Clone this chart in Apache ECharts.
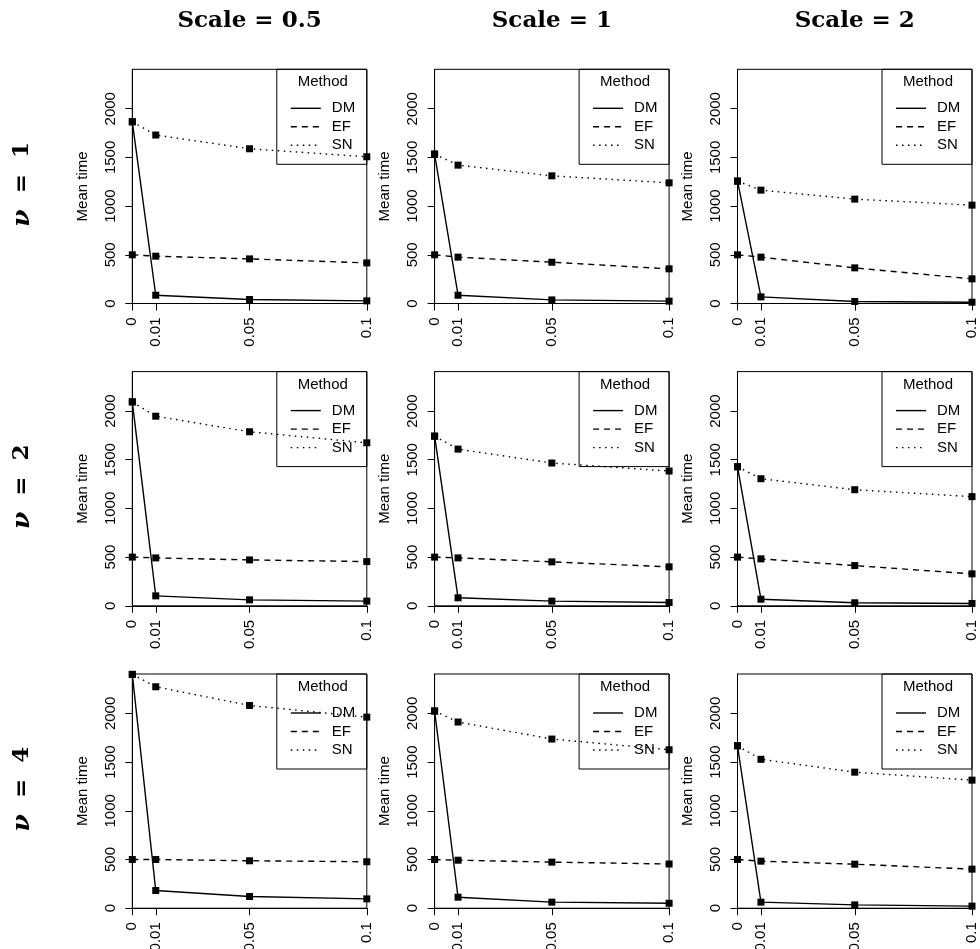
<!DOCTYPE html>
<html>
<head>
<meta charset="utf-8">
<style>
  html, body { margin: 0; padding: 0; background: #fff; }
  #chart { width: 980px; height: 949px; }
</style>
<script src="https://cdn.jsdelivr.net/npm/echarts@6/dist/echarts.min.js"></script>
</head>
<body>
<div id="chart"></div>
<script>
// Contamination levels on the x axis
const xLevels = [0, 0.01, 0.05, 0.1];
const yTicks = [0, 500, 1000, 1500, 2000];
const scaleLabels = ['Scale = 0.5', 'Scale = 1', 'Scale = 2'];
const nuLabels = ['1', '2', '4'];
const methods = ['DM', 'EF', 'SN'];

// Mean time per method; one array per (nu, scale) panel, values at xLevels
const DM_nu1_s05 = [1866, 85, 41, 27];
const DM_nu1_s1  = [1534, 85, 37, 24];
const DM_nu1_s2  = [1257, 68, 21, 13];
const DM_nu2_s05 = [2094, 102, 61, 48];
const DM_nu2_s1  = [1742, 82, 48, 34];
const DM_nu2_s2  = [1428, 68, 31, 24];
const DM_nu4_s05 = [2401, 182, 120, 96];
const DM_nu4_s1  = [2025, 113, 62, 51];
const DM_nu4_s2  = [1668, 62, 34, 21];

const EF_nu1_s05 = [500, 486, 458, 417];
const EF_nu1_s1  = [500, 476, 424, 356];
const EF_nu1_s2  = [500, 476, 366, 253];
const EF_nu2_s05 = [500, 492, 471, 454];
const EF_nu2_s1  = [500, 492, 451, 400];
const EF_nu2_s2  = [500, 482, 413, 328];
const EF_nu4_s05 = [500, 500, 487, 477];
const EF_nu4_s1  = [500, 493, 473, 454];
const EF_nu4_s2  = [500, 483, 452, 401];

const SN_nu1_s05 = [1866, 1730, 1589, 1507];
const SN_nu1_s1  = [1534, 1421, 1311, 1239];
const SN_nu1_s2  = [1257, 1164, 1072, 1010];
const SN_nu2_s05 = [2094, 1947, 1787, 1674];
const SN_nu2_s1  = [1742, 1609, 1466, 1384];
const SN_nu2_s2  = [1428, 1305, 1192, 1121];
const SN_nu4_s05 = [2401, 2274, 2082, 1962];
const SN_nu4_s1  = [2025, 1912, 1737, 1627];
const SN_nu4_s2  = [1668, 1529, 1397, 1315];

const yMax = 2405;

const panels = [
  [[DM_nu1_s05, EF_nu1_s05, SN_nu1_s05], [DM_nu1_s1, EF_nu1_s1, SN_nu1_s1], [DM_nu1_s2, EF_nu1_s2, SN_nu1_s2]],
  [[DM_nu2_s05, EF_nu2_s05, SN_nu2_s05], [DM_nu2_s1, EF_nu2_s1, SN_nu2_s1], [DM_nu2_s2, EF_nu2_s2, SN_nu2_s2]],
  [[DM_nu4_s05, EF_nu4_s05, SN_nu4_s05], [DM_nu4_s1, EF_nu4_s1, SN_nu4_s1], [DM_nu4_s2, EF_nu4_s2, SN_nu4_s2]]
];

// Layout of the 3x3 panel matrix
const colLeft = [132.3, 434.6, 737.5];
const rowTop = [69.3, 371.6, 674];
const plotW = 234.5;
const plotH = 234.2;

const FONT = 'Liberation Sans, Arial, sans-serif';
const lineW = 1.4;
const dashes = { DM: 'solid', EF: [6, 5], SN: [1.5, 4.5] };

const grids = [], xAxes = [], yAxes = [], series = [], graphics = [];

for (let r = 0; r < 3; r++) {
  for (let c = 0; c < 3; c++) {
    const idx = r * 3 + c;
    const left = colLeft[c], top = rowTop[r];
    grids.push({
      left: left, top: top, width: plotW, height: plotH,
      show: true, borderColor: '#000', borderWidth: 1, backgroundColor: 'transparent',
      containLabel: false, outerBoundsMode: 'none'
    });
    xAxes.push({
      gridIndex: idx, type: 'value', min: 0, max: 0.1,
      axisLine: { show: true, lineStyle: { color: '#000', width: 1 } },
      axisTick: { show: true, length: 7, customValues: xLevels, lineStyle: { color: '#000', width: 1 } },
      axisLabel: { customValues: xLevels, rotate: 90, margin: 14, color: '#000', fontSize: 15, fontFamily: FONT,
        formatter: v => String(v) },
      splitLine: { show: false }
    });
    yAxes.push({
      gridIndex: idx, type: 'value', min: 0, max: yMax,
      axisLine: { show: true, lineStyle: { color: '#000', width: 1 } },
      axisTick: { show: true, length: 7, customValues: yTicks, lineStyle: { color: '#000', width: 1 } },
      axisLabel: { customValues: yTicks, rotate: 90, margin: 14, color: '#000', fontSize: 15, fontFamily: FONT,
        formatter: v => String(v) },
      splitLine: { show: false },
      name: 'Mean time', nameLocation: 'middle', nameGap: 42, nameRotate: 90,
      nameTextStyle: { color: '#000', fontSize: 15, fontFamily: FONT }
    });
    panels[r][c].forEach((vals, m) => {
      series.push({
        type: 'line', name: methods[m], xAxisIndex: idx, yAxisIndex: idx,
        data: xLevels.map((x, i) => [x, vals[i]]),
        symbol: 'rect', symbolSize: 7, showAllSymbol: true, clip: true,
        itemStyle: { color: '#000' },
        lineStyle: { color: '#000', width: lineW, type: dashes[methods[m]] },
        emphasis: { disabled: true }, silent: true, animation: false
      });
    });

    // Legend box in the upper right corner of the panel
    const right = left + plotW;
    const lg = [];
    lg.push({ type: 'rect', shape: { x: right - 90, y: top, width: 90, height: 95 },
      style: { fill: 'none', stroke: '#000', lineWidth: 1 } });
    lg.push({ type: 'text', x: right - 44, y: top + 13,
      style: { text: 'Method', fill: '#000', font: '15px ' + FONT, textAlign: 'center', textVerticalAlign: 'middle' } });
    methods.forEach((name, m) => {
      const yy = top + 39 + m * 18.5;
      const d = dashes[name];
      lg.push({ type: 'line', shape: { x1: right - 76, y1: yy, x2: right - 46, y2: yy },
        style: { stroke: '#000', lineWidth: lineW, lineDash: d === 'solid' ? null : d } });
      lg.push({ type: 'text', x: right - 35, y: yy,
        style: { text: name, fill: '#000', font: '15px ' + FONT, textAlign: 'left', textVerticalAlign: 'middle' } });
    });
    graphics.push({ type: 'group', children: lg, silent: true });
  }
}

// Column headers
scaleLabels.forEach((t, c) => {
  graphics.push({ type: 'text', x: colLeft[c] + plotW / 2, y: 21,
    style: { text: t, fill: '#000', font: 'bold 23px "DejaVu Serif", serif', textAlign: 'center', textVerticalAlign: 'middle' } });
});
// Row headers
nuLabels.forEach((t, r) => {
  graphics.push({ type: 'text', x: 22, y: rowTop[r] + plotH / 2 - 2, rotation: Math.PI / 2,
    style: {
      text: '{i|ν}  =  ' + t, fill: '#000', font: 'bold 23px "DejaVu Serif", serif',
      textAlign: 'center', textVerticalAlign: 'middle',
      rich: { i: { fontStyle: 'italic', fontWeight: 'bold', fontSize: 25, fontFamily: 'DejaVu Serif' } }
    } });
});

const chart = echarts.init(document.getElementById('chart'), null, { renderer: 'canvas' });
chart.setOption({
  animation: false,
  backgroundColor: '#fff',
  grid: grids,
  xAxis: xAxes,
  yAxis: yAxes,
  series: series,
  graphic: graphics
});
</script>
</body>
</html>
